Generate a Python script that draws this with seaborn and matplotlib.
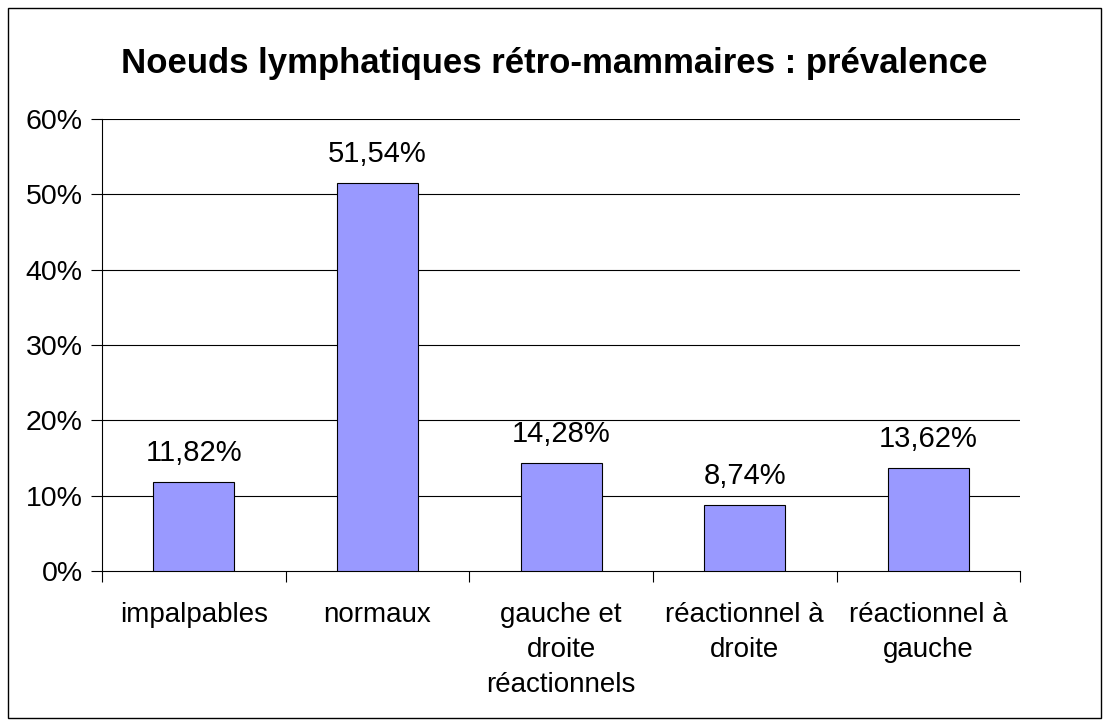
import numpy as np
import pandas as pd
import seaborn as sns
import matplotlib.pyplot as plt
from matplotlib.patches import Rectangle

categories = ['impalpables', 'normaux', 'gauche et\ndroite\nréactionnels',
              'réactionnel à\ndroite', 'réactionnel à\ngauche']
values = [11.82, 51.54, 14.28, 8.74, 13.62]
y_ticks = [0, 10, 20, 30, 40, 50, 60]
title = 'Noeuds lymphatiques rétro-mammaires : prévalence'

sns.set_style('white')
plt.rcParams['font.family'] = ['Liberation Sans', 'DejaVu Sans']
plt.rcParams['text.color'] = 'black'
plt.rcParams['xtick.color'] = 'black'
plt.rcParams['ytick.color'] = 'black'

df = pd.DataFrame({'cat': categories, 'val': values})

fig = plt.figure(figsize=(11.09, 7.26), dpi=100)
ax = fig.add_axes([0.092, 0.2135, 0.828, 0.6225])

sns.barplot(data=df, x='cat', y='val', color='#9999FF', saturation=1,
            edgecolor='black', linewidth=0.8, width=0.44, ax=ax, zorder=3)

ax.set_ylim(0, 60)
ax.set_xlim(-0.5, len(categories) - 0.5)
ax.set_yticks(y_ticks)
ax.set_yticklabels([f'{t}%' for t in y_ticks], fontsize=20.5)
for t in y_ticks[1:]:
    ax.axhline(t, color='black', linewidth=0.8, zorder=1)

ax.set_xticks(np.arange(len(categories)))
ax.set_xticklabels(categories, fontsize=20, linespacing=1.45, va='top')
ax.tick_params(axis='x', length=0, pad=22)
ax.set_xticks(np.arange(-0.5, len(categories)), minor=True)
ax.tick_params(axis='x', which='minor', length=8, width=0.8, color='black', direction='out', bottom=True)
ax.tick_params(axis='y', length=8, width=0.8, color='black', direction='out', left=True, pad=6)
ax.set_xlabel('')
ax.set_ylabel('')

for s in ['top', 'right']:
    ax.spines[s].set_visible(False)
for s in ['left', 'bottom']:
    ax.spines[s].set_color('black')
    ax.spines[s].set_linewidth(0.8)

for i, v in enumerate(values):
    ax.annotate(f'{v:.2f}%'.replace('.', ','), xy=(i, v), xytext=(0, 11),
                textcoords='offset points', ha='center', va='bottom', fontsize=21)

fig.text(0.5, 0.912, title, ha='center', va='center', fontsize=25, fontweight='bold')

fig.patches.append(Rectangle((0.0075, 0.011), 0.985, 0.978, transform=fig.transFigure,
                             fill=False, edgecolor='black', linewidth=1))

fig.savefig('out.png', dpi=100)
